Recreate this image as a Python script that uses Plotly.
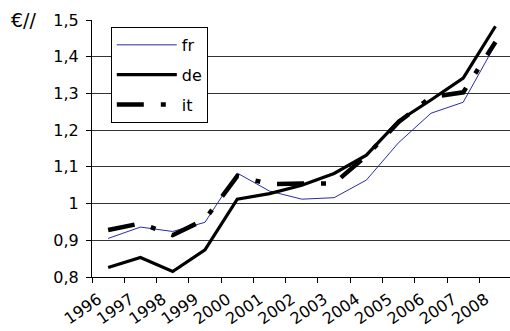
import plotly.graph_objects as go

years = [1996, 1997, 1998, 1999, 2000, 2001, 2002, 2003, 2004, 2005, 2006, 2007, 2008]
fr = [0.905, 0.936, 0.924, 0.949, 1.083, 1.034, 1.012, 1.016, 1.064, 1.166, 1.246, 1.276, 1.434]
de = [0.826, 0.853, 0.815, 0.874, 1.012, 1.027, 1.050, 1.082, 1.132, 1.225, 1.282, 1.342, 1.483]
it = [0.928, 0.946, 0.914, 0.957, 1.075, 1.053, 1.055, 1.055, 1.130, 1.222, 1.290, 1.303, 1.440]

y_ticks = [0.8, 0.9, 1.0, 1.1, 1.2, 1.3, 1.4, 1.5]
y_labels = ["0,8", "0,9", "1", "1,1", "1,2", "1,3", "1,4", "1,5"]
year_labels = [str(y) for y in years]
unit_label = "€//"

FONT = "DejaVu Sans, Liberation Sans, sans-serif"

fig = go.Figure()
fig.add_trace(go.Scatter(x=years, y=fr, name="fr", mode="lines", legendgroup="a",
                         line=dict(color="#2b2ba6", width=1)))
fig.add_trace(go.Scatter(x=years, y=de, name="de", mode="lines", legendgroup="b",
                         line=dict(color="black", width=3.2)))
fig.add_trace(go.Scatter(x=years, y=it, name="it", mode="lines", legendgroup="c",
                         line=dict(color="black", width=4.5, dash="27px,17px,5px,17px")))

fig.update_layout(
    width=510, height=331, autosize=False,
    margin=dict(l=92, r=0, t=20, b=54, autoexpand=False),
    paper_bgcolor="white", plot_bgcolor="white",
    font=dict(family=FONT, size=16, color="black"),
    showlegend=True,
    legend=dict(x=0.045, y=0.973, xanchor="left", yanchor="top",
                bgcolor="white", bordercolor="black", borderwidth=1,
                font=dict(family=FONT, size=16, color="black"),
                tracegroupgap=6, traceorder="grouped", itemwidth=60),
    xaxis=dict(range=[1995.5, 2008.45], tickvals=years, ticktext=year_labels,
               tickangle=-35, ticks="", showgrid=False, zeroline=False, automargin=False,
               showline=True, linecolor="black", linewidth=1,
               tickfont=dict(family=FONT, size=16), ticklabelshift=-10,
               ticklabelstandoff=6,
               minor=dict(tickvals=[y - 0.5 for y in years] + [2008.5], ticks="outside",
                          ticklen=5, tickcolor="black", showgrid=False)),
    yaxis=dict(range=[0.8, 1.5], tickvals=y_ticks, ticktext=y_labels, automargin=False,
               ticks="outside", ticklen=5, tickcolor="black",
               showgrid=True, gridcolor="#333333", gridwidth=1,
               zeroline=False, showline=True, linecolor="black", linewidth=1,
               tickfont=dict(family=FONT, size=16), ticklabelstandoff=4),
    annotations=[dict(text=unit_label, xref="paper", yref="paper", x=-0.198, y=1.0,
                      xanchor="left", yanchor="middle", showarrow=False,
                      font=dict(family=FONT, size=19, color="black"))],
)

fig.write_html("out.html", post_script="document.body.style.margin='0';",
               config={"displayModeBar": False})
